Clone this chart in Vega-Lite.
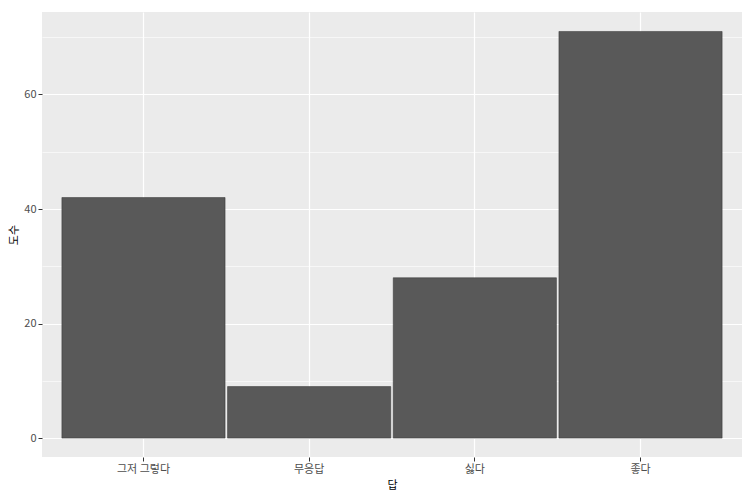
{
  "$schema": "https://vega.github.io/schema/vega-lite/v6.json",
  "width": 700,
  "height": 445,
  "autosize": {"type": "none"},
  "padding": {"left": 42, "top": 12, "right": 8, "bottom": 43},
  "background": "white",
  "config": {
    "view": {"fill": "#EBEBEB", "stroke": null},
    "font": "Noto Sans CJK KR",
    "axis": {
      "domain": false,
      "gridColor": "white",
      "labelColor": "#4D4D4D",
      "labelFontSize": 11,
      "tickColor": "#333333",
      "tickSize": 4,
      "titleFontWeight": "normal",
      "titleFontSize": 11,
      "titleColor": "black"
    }
  },
  "data": {
    "values": [
      {"답": "그저 그렇다", "도수": 42},
      {"답": "무응답", "도수": 9},
      {"답": "싫다", "도수": 28},
      {"답": "좋다", "도수": 71}
    ]
  },
  "layer": [
    {
      "mark": {"type": "bar", "fill": "#595959", "stroke": "#333333", "strokeWidth": 0.5},
      "encoding": {
        "x": {
          "field": "답", "type": "nominal", "sort": null,
          "scale": {"paddingInner": 0.015, "paddingOuter": 0.12},
          "axis": {"labelAngle": 0, "grid": true, "gridWidth": 1.2, "bandPosition": 0.5, "title": "답", "labelPadding": 2, "titlePadding": 5}
        },
        "y": {
          "field": "도수", "type": "quantitative",
          "scale": {"domain": [-3.3, 74.4], "nice": false, "zero": false},
          "axis": {"values": [0, 20, 40, 60], "grid": true, "gridWidth": 1.2, "title": "도수", "labelPadding": 2, "titlePadding": 4}
        }
      }
    },
    {
      "mark": {"type": "bar", "opacity": 0},
      "encoding": {
        "x": {"field": "답", "type": "nominal", "sort": null},
        "y": {
          "field": "도수", "type": "quantitative",
          "scale": {"domain": [-3.3, 74.4], "nice": false, "zero": false},
          "axis": {"values": [10, 30, 50, 70], "grid": true, "gridWidth": 0.6, "labels": false, "ticks": false, "title": null, "domain": false}
        }
      }
    }
  ],
  "resolve": {"axis": {"y": "independent"}}
}
